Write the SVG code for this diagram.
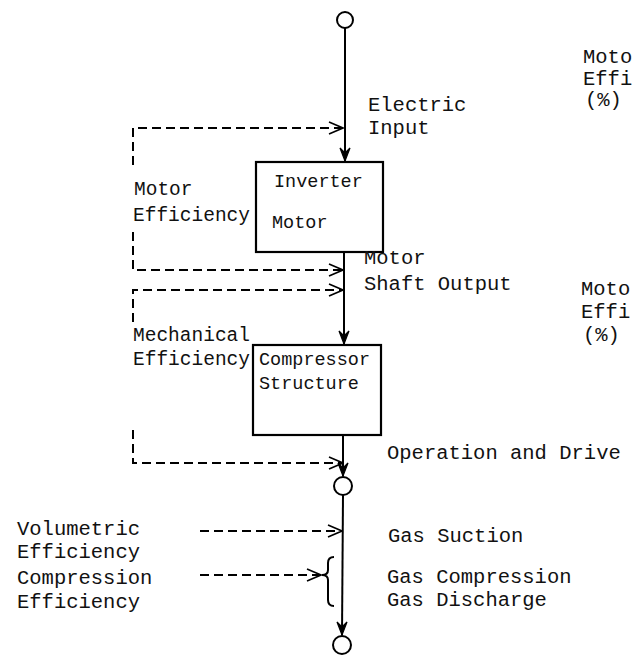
<svg xmlns="http://www.w3.org/2000/svg" width="634" height="657" viewBox="0 0 634 657">
<defs>
<style>
text{font-family:"Liberation Mono","DejaVu Sans Mono",monospace;font-size:20.5px;fill:#111}
.sm{font-size:19.5px}
.bx{font-size:18.5px}
.box{fill:#fff;stroke:#000;stroke-width:2.2}
.flow{fill:none;stroke:#000;stroke-width:2}
.dash{fill:none;stroke:#000;stroke-width:2;stroke-dasharray:9 5}
.term{fill:#fff;stroke:#000;stroke-width:2}
</style>
<marker id="open" viewBox="0 0 16 14" refX="15" refY="7" markerWidth="16" markerHeight="14" markerUnits="userSpaceOnUse" orient="auto">
<path d="M1,1 L15,7 L1,13" fill="none" stroke="#000" stroke-width="1.6"/>
</marker>
<marker id="fill" viewBox="0 0 12 15" refX="6" refY="14" markerWidth="12" markerHeight="15" markerUnits="userSpaceOnUse" orient="0">
<path d="M1,1 L6,14 L11,1 L6,6 Z" fill="#000" stroke="#000" stroke-width="1.2"/>
</marker>
</defs>
<g id="connectors">
<line class="flow" x1="345" y1="28" x2="345" y2="161" marker-end="url(#fill)"/>
<line class="flow" x1="344" y1="252" x2="344" y2="344" marker-end="url(#fill)"/>
<line class="flow" x1="343" y1="435" x2="343" y2="476" marker-end="url(#fill)"/>
<line class="flow" x1="343" y1="495" x2="342" y2="635" marker-end="url(#fill)"/>
<path class="dash" d="M133,165 V128 H343" marker-end="url(#open)"/>
<path class="dash" d="M133,232 V270 H343" marker-end="url(#open)"/>
<path class="dash" d="M133,322 V290 H343" marker-end="url(#open)"/>
<path class="dash" d="M133,430 V463 H343" marker-end="url(#open)"/>
<path class="dash" d="M200,531 H342" marker-end="url(#open)"/>
<path class="dash" d="M200,575 H321" marker-end="url(#open)"/>
<path class="flow" d="M334,557 Q328,557 328,563 V570 Q328,575 322,575 Q328,575 328,580 V600 Q328,606 334,606"/>
</g>
<g id="n-input"><circle class="term" cx="345" cy="20" r="8"/></g>
<g id="n-inverter">
<rect class="box" x="256" y="162" width="127" height="90"/>
<text class="bx" x="274" y="187">Inverter</text>
<text class="bx" x="272" y="228">Motor</text>
</g>
<g id="n-compressor">
<rect class="box" x="253" y="345" width="128" height="90"/>
<text class="bx" x="259" y="365">Compressor</text>
<text class="bx" x="259" y="389">Structure</text>
</g>
<g id="n-mid"><circle class="term" cx="343" cy="486" r="9"/></g>
<g id="n-out"><circle class="term" cx="342" cy="645" r="9"/></g>
<g id="labels">
<text x="368" y="111">Electric</text>
<text x="368" y="134">Input</text>
<text x="583" y="63">Moto</text>
<text x="583" y="85">Effi</text>
<text x="585" y="106">(%)</text>
<text class="sm" x="134" y="195">Motor</text>
<text class="sm" x="133" y="221">Efficiency</text>
<text x="364" y="264">Motor</text>
<text x="364" y="290">Shaft Output</text>
<text x="581" y="295">Moto</text>
<text x="581" y="318">Effi</text>
<text x="583" y="341">(%)</text>
<text class="sm" x="133" y="341">Mechanical</text>
<text class="sm" x="133" y="365">Efficiency</text>
<text x="387" y="459">Operation and Drive</text>
<text x="17" y="535">Volumetric</text>
<text x="17" y="558">Efficiency</text>
<text x="17" y="584">Compression</text>
<text x="17" y="608">Efficiency</text>
<text x="388" y="542">Gas Suction</text>
<text x="387" y="583">Gas Compression</text>
<text x="387" y="606">Gas Discharge</text>
</g>
</svg>
